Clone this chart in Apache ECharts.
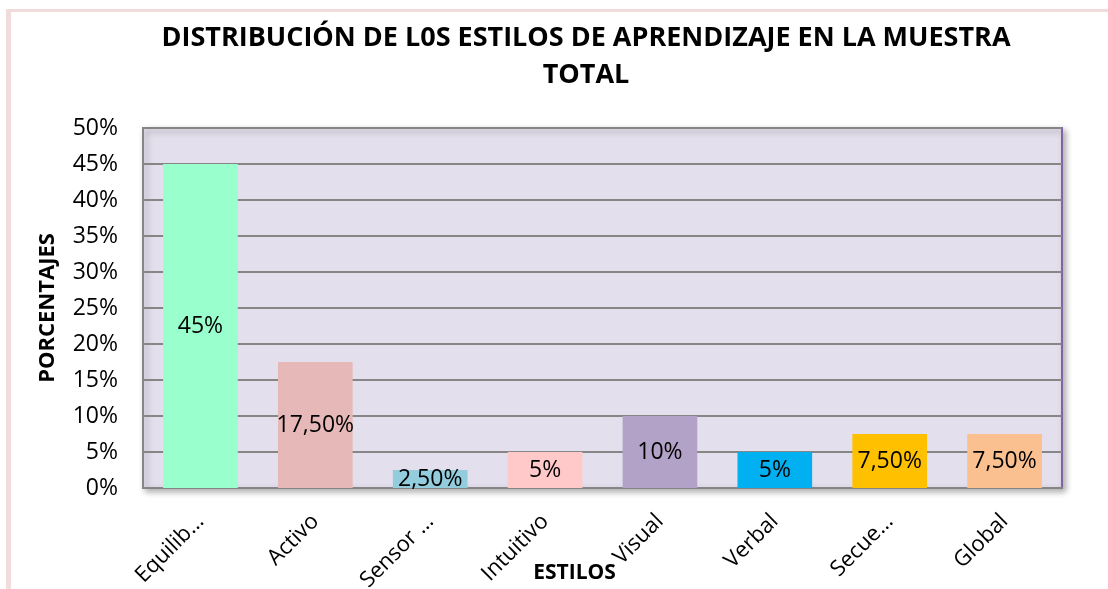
<!DOCTYPE html>
<html>
<head>
<meta charset="utf-8">
<script src="https://cdn.jsdelivr.net/npm/echarts@6/dist/echarts.min.js"></script>
<style>
  html, body { margin: 0; padding: 0; background: #fff; }
  #chart { width: 1108px; height: 589px; }
</style>
</head>
<body>
<div id="chart"></div>
<script>
// estilos de aprendizaje, porcentaje de la muestra total
var estilos = ['Equilib…', 'Activo', 'Sensor …', 'Intuitivo', 'Visual', 'Verbal', 'Secue…', 'Global'];
var porcentajes = [45, 17.5, 2.5, 5, 10, 5, 7.5, 7.5];
var colores = ['#99FFCC', '#E6B9B8', '#93CDDD', '#FFC9C9', '#B3A2C7', '#00B0F0', '#FFC000', '#FAC090'];
var yTicks = { min: 0, max: 50, step: 5 };

var font = 'Open Sans';

function fmtPct(v) {
    return Number.isInteger(v) ? v + '%' : v.toFixed(2).replace('.', ',') + '%';
}

var chart = echarts.init(document.getElementById('chart'));

chart.setOption({
    backgroundColor: '#ffffff',
    textStyle: { fontFamily: font, color: '#000' },
    title: {
        left: 581,
        top: 15,
        textAlign: 'center',
        text: 'DISTRIBUCIÓN DE L0S ESTILOS DE APRENDIZAJE EN LA MUESTRA\nTOTAL',
        textStyle: {
            fontFamily: font,
            fontSize: 27,
            fontWeight: 'bold',
            color: '#000',
            lineHeight: 37
        }
    },
    graphic: [
        { type: 'rect', shape: { x: 6, y: 9, width: 1102, height: 3 }, style: { fill: '#F2DCDB' }, silent: true },
        { type: 'rect', shape: { x: 6, y: 9, width: 5, height: 580 }, style: { fill: '#F2DCDB' }, silent: true }
    ],
    grid: {
        left: 143,
        right: 46,
        top: 128,
        bottom: 101,
        outerBoundsMode: 'none',
        show: true,
        backgroundColor: '#E4DFEC',
        borderColor: '#8064A2',
        borderWidth: 2,
        shadowColor: 'rgba(0,0,0,0.3)',
        shadowBlur: 6,
        shadowOffsetX: 3,
        shadowOffsetY: 3
    },
    xAxis: {
        type: 'category',
        data: estilos,
        name: 'ESTILOS',
        nameLocation: 'middle',
        nameGap: 75,
        nameMoveOverlap: false,
        nameTextStyle: { fontFamily: font, fontSize: 21, fontWeight: 'bold', color: '#000', padding: [0, 56, 0, 0] },
        axisLine: { lineStyle: { color: '#868686', width: 2 } },
        axisTick: { show: false },
        axisLabel: {
            rotate: 45,
            margin: 30,
            fontFamily: font,
            fontSize: 22,
            color: '#000'
        }
    },
    yAxis: {
        type: 'value',
        min: yTicks.min,
        max: yTicks.max,
        interval: yTicks.step,
        name: 'PORCENTAJES',
        nameLocation: 'middle',
        nameGap: 84,
        nameRotate: 90,
        nameTextStyle: { fontFamily: font, fontSize: 22, fontWeight: 'bold', color: '#000' },
        axisLine: { show: true, lineStyle: { color: '#868686', width: 2 } },
        axisTick: { show: false },
        axisLabel: {
            margin: 25,
            fontFamily: font,
            fontSize: 23,
            color: '#000',
            formatter: '{value}%'
        },
        splitLine: { lineStyle: { color: '#868686', width: 2 } }
    },
    series: [{
        type: 'bar',
        barWidth: '65%',
        data: porcentajes.map(function (v, i) {
            return { value: v, itemStyle: { color: colores[i] } };
        }),
        label: {
            show: true,
            position: 'inside',
            fontFamily: font,
            fontSize: 23,
            color: '#000',
            formatter: function (p) { return fmtPct(p.value); }
        }
    }]
});
</script>
</body>
</html>
